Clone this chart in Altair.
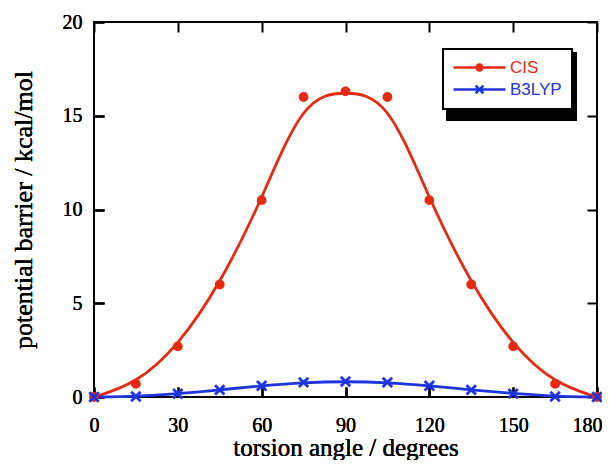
import altair as alt
import pandas as pd

angles = [0, 15, 30, 45, 60, 75, 90, 105, 120, 135, 150, 165, 180]
cis = [0.0, 0.7, 2.7, 6.0, 10.5, 16.0, 16.3, 16.0, 10.5, 6.0, 2.7, 0.7, 0.0]
b3lyp = [0.0, 0.03, 0.17, 0.38, 0.6, 0.78, 0.83, 0.78, 0.6, 0.38, 0.18, 0.03, 0.0]
series_names = ["CIS", "B3LYP"]
x_ticks = [0, 30, 60, 90, 120, 150, 180]
y_ticks = [0, 5, 10, 15, 20]

RED = "#e62a10"
BLUE = "#1c35e0"

df = pd.DataFrame({
    "angle": angles + angles,
    "energy": cis + b3lyp,
    "series": [series_names[0]] * len(angles) + [series_names[1]] * len(angles),
})

xs = alt.Scale(domain=[0, 180], nice=False, zero=False)
ys = alt.Scale(domain=[0, 20], nice=False)
cs = alt.Scale(domain=series_names, range=[RED, BLUE])

DOT = "M0.8,0A0.8,0.8 0 1,1 -0.8,0A0.8,0.8 0 1,1 0.8,0Z"
XMARK = "M-1.05,-1.05L1.05,1.05M-1.05,1.05L1.05,-1.05"
LEG_DOT = "M-4,0L4,0M0.45,0A0.45,0.45 0 1,1 -0.45,0A0.45,0.45 0 1,1 0.45,0Z"
LEG_X = "M-4,0L4,0M-0.6,-0.6L0.6,0.6M-0.6,0.6L0.6,-0.6"

color_expr = f"datum.value === 'CIS' ? '{RED}' : '{BLUE}'"
shape_expr = f"datum.value === 'CIS' ? '{LEG_DOT}' : '{LEG_X}'"

legend_common = dict(
    title=None,
    orient="none",
    padding=10,
    symbolSize=169,
    symbolStrokeWidth=2.5,
    symbolOffset=18,
    labelOffset=22,
    labelFont="Liberation Sans",
    labelFontSize=17,
    rowPadding=4,
    symbolOpacity=1,
    strokeColor="black",
)

legend = alt.Legend(
    legendX=349,
    legendY=27,
    fillColor="white",
    symbolType=alt.ExprRef(shape_expr),
    symbolFillColor=alt.ExprRef(color_expr),
    symbolStrokeColor=alt.ExprRef(color_expr),
    labelColor=alt.ExprRef(color_expr),
    zindex=2,
    **legend_common,
)

# drop shadow of the legend box: same size, all black, drawn underneath
shadow_legend = alt.Legend(
    legendX=353,
    legendY=31,
    fillColor="black",
    symbolType="circle",
    symbolFillColor="black",
    symbolStrokeColor="black",
    labelColor="black",
    zindex=1,
    **legend_common,
)

axis_common = dict(
    domain=False, grid=False, ticks=True, tickSize=10, tickWidth=2,
    tickColor="black", offset=-10, labelFont="Liberation Serif", labelFontSize=20,
    labelColor="black", titleFont="Liberation Serif", titleFontWeight="normal",
    titleColor="black",
)

x_bottom = alt.Axis(values=x_ticks, orient="bottom", title="torsion angle / degrees",
                    labelFlush=True, labelFlushOffset=5,
                    labelPadding=18, titlePadding=0, titleFontSize=25, **axis_common)
y_left = alt.Axis(values=y_ticks, orient="left", title="potential barrier / kcal/mol",
                  labelFlush=False,
                  labelPadding=12, titlePadding=26, titleFontSize=26, **axis_common)
x_top = alt.Axis(values=x_ticks, orient="top", labels=False, title=None, **axis_common)
y_right = alt.Axis(values=y_ticks, orient="right", labels=False, title=None, **axis_common)

base = alt.Chart(df)
enc_x = alt.X("angle:Q", scale=xs, axis=x_bottom)
enc_y = alt.Y("energy:Q", scale=ys, axis=y_left)

lines = base.mark_line(interpolate="basis", strokeWidth=2.8).encode(
    x=enc_x,
    y=enc_y,
    color=alt.Color("series:N", scale=cs, legend=legend),
    detail="series:N",
)

cis_points = base.transform_filter(
    alt.datum.series == series_names[0]
).mark_point(filled=True, shape=DOT, size=81, strokeWidth=2.6, opacity=1).encode(
    x=enc_x,
    y=enc_y,
    color=alt.Color("series:N", scale=cs, legend=legend),
    stroke=alt.Stroke("series:N", scale=cs, legend=None),
)

b3lyp_points = base.transform_filter(
    alt.datum.series == series_names[1]
).mark_point(filled=False, shape=XMARK, size=81, strokeWidth=2.8, opacity=1).encode(
    x=enc_x,
    y=enc_y,
    color=alt.Color("series:N", scale=cs, legend=legend),
)

frame_axes = base.mark_line(opacity=0).encode(
    x=alt.X("angle:Q", scale=xs, axis=x_top),
    y=alt.Y("energy:Q", scale=ys, axis=y_right),
    strokeDash=alt.StrokeDash("series:N", scale=alt.Scale(domain=series_names[::-1]),
                              legend=shadow_legend),
)

chart = alt.layer(lines, cis_points, b3lyp_points, frame_axes).resolve_axis(
    x="independent", y="independent"
).properties(
    width=503,
    height=375,
    autosize=alt.AutoSizeParams(type="none"),
    padding={"left": 86, "top": 14, "right": 5, "bottom": 63},
    background="white",
).configure_view(stroke="black", strokeWidth=2).configure_legend(strokeWidth=2)

chart.save("out.html", embed_options={"renderer": "svg", "actions": False})
